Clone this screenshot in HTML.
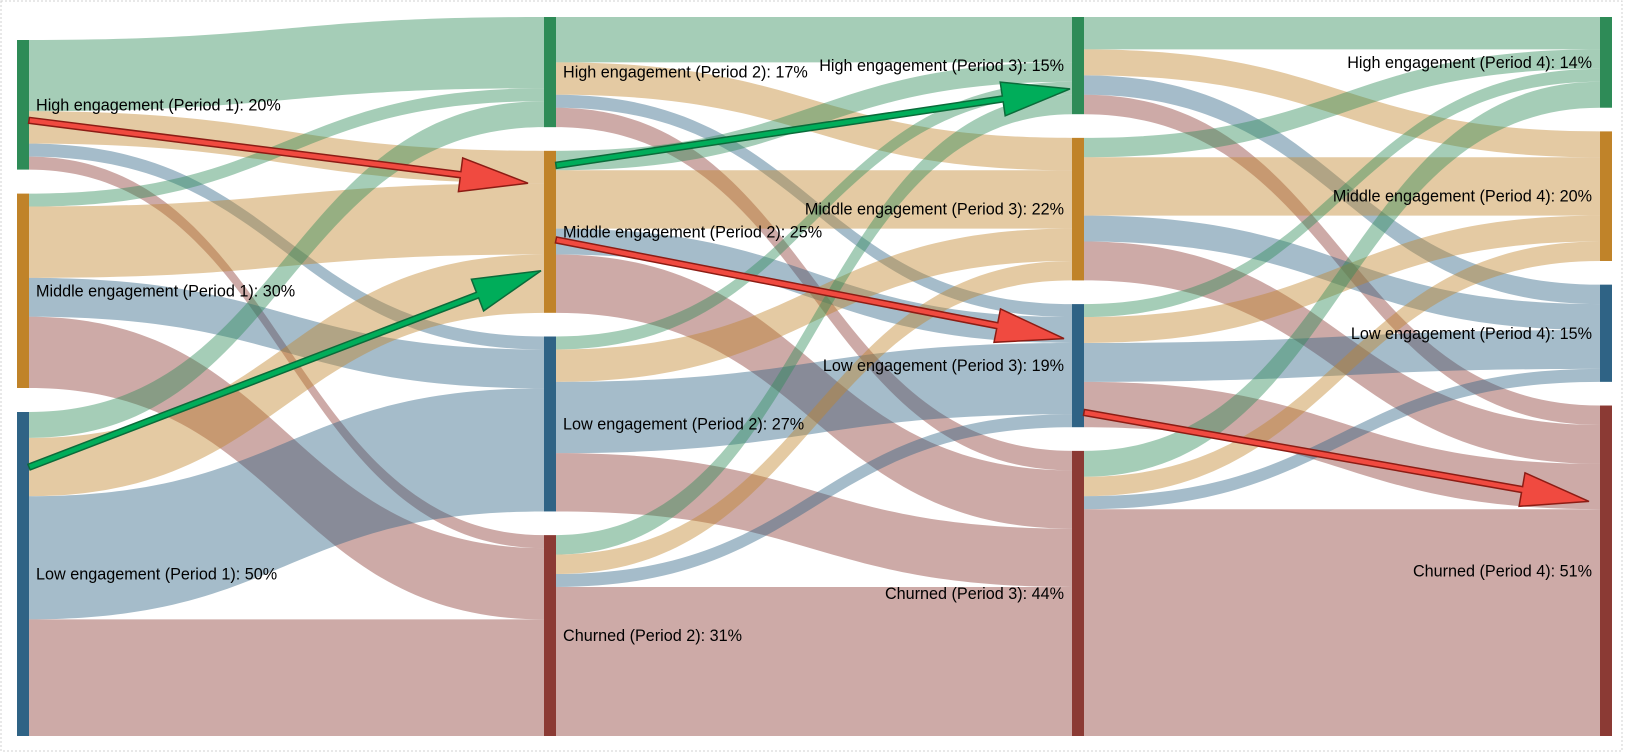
<!DOCTYPE html>
<html><head><meta charset="utf-8">
<style>
html,body{margin:0;padding:0;background:#fff;}
svg{display:block;font-family:"Liberation Sans",Arial,sans-serif;}
</style></head>
<body>
<svg id="chart" width="1629" height="754" viewBox="0 0 1629 754" xmlns="http://www.w3.org/2000/svg">
<rect x="1" y="1" width="1621" height="750" fill="#fff" stroke="#d0d0d0" stroke-dasharray="2,2"/>
<g id="links"></g><g id="nodes"></g><g id="labels"></g><g id="arrows"></g>
</svg>
<script>
const categories = ["High engagement", "Middle engagement", "Low engagement", "Churned"];
const nodeValuesP1 = [20, 30, 50];
const nodeValuesP2 = [17, 25, 27, 31];
const nodeValuesP3 = [15, 22, 19, 44];
const nodeValuesP4 = [14, 20, 15, 51];
// link values: rows = source category, cols = target category
const flowsP1P2 = [[11, 5, 2, 2], [2, 11, 6, 11], [4, 9, 19, 18]];
const flowsP2P3 = [[7, 5, 2, 3], [3, 9, 4, 9], [2, 5, 11, 9], [3, 3, 2, 23]];
const flowsP3P4 = [[5, 4, 3, 3], [3, 9, 4, 6], [2, 4, 6, 7], [4, 3, 2, 35]];
// highlight arrows: [fromPeriod, fromCategory, toPeriod, toCategory, kind]
const arrowsData = [[1, 0, 2, 1, "down"], [2, 1, 3, 2, "down"], [3, 2, 4, 3, "down"], [1, 2, 2, 1, "up"], [2, 1, 3, 0, "up"]];

const NS = "http://www.w3.org/2000/svg";
const nodeCol = ["#2e8b57", "#c08329", "#2f6385", "#8b3a34"];
const linkCol = ["rgba(46,139,87,0.43)", "rgba(192,131,41,0.43)", "rgba(47,99,133,0.43)", "rgba(139,58,52,0.43)"];
const colX = [17, 544, 1072, 1600], NW = 12;
const top0 = 17, bot = 736, ky = 6.48;
const columns = [nodeValuesP1, nodeValuesP2, nodeValuesP3, nodeValuesP4];
const flows = [flowsP1P2, flowsP2P3, flowsP3P4];

function el(tag, attrs, parent) { const e = document.createElementNS(NS, tag); for (const k in attrs) e.setAttribute(k, attrs[k]); parent.appendChild(e); return e; }

const layout = columns.map((vals, c) => {
  const tot = vals.reduce((a, b) => a + b, 0);
  let gap, y;
  if (c === 0) { gap = 24; y = bot - tot * ky - gap * (vals.length - 1); }
  else { gap = (bot - top0 - tot * ky) / (vals.length - 1); y = top0; }
  return vals.map(v => { const n = { y0: y, y1: y + v * ky }; y = n.y1 + gap; return n; });
});
const outOff = layout.map(col => col.map(n => n.y0));
const inOff = layout.map(col => col.map(n => n.y0));

const gL = document.getElementById("links");
flows.forEach((m, c) => {
  const x0 = colX[c] + NW, x1 = colX[c + 1], xm = (x0 + x1) / 2;
  m.forEach((row, s) => row.forEach((v, t) => {
    if (!v) return;
    const h = v * ky;
    const sy = outOff[c][s]; outOff[c][s] += h;
    const ty = inOff[c + 1][t]; inOff[c + 1][t] += h;
    const d = `M${x0},${sy}C${xm},${sy} ${xm},${ty} ${x1},${ty}L${x1},${ty + h}C${xm},${ty + h} ${xm},${sy + h} ${x0},${sy + h}Z`;
    const p = el("path", { d: d, fill: linkCol[t] }, gL);
    
    
  }));
});

const gN = document.getElementById("nodes"), gT = document.getElementById("labels");
layout.forEach((col, c) => col.forEach((n, i) => {
  const r = el("rect", { x: colX[c], y: n.y0, width: NW, height: n.y1 - n.y0, fill: nodeCol[i] }, gN);
  
  
  const left = c >= 2;
  const t = el("text", { x: left ? colX[c] - 8 : colX[c] + NW + 7, y: (n.y0 + n.y1) / 2 + 5.5, "font-size": "16.2", fill: "#000", "text-anchor": left ? "end" : "start" }, gT);
  t.textContent = categories[i] + " (Period " + (c + 1) + "): " + columns[c][i] + "%";
  
  
}));

// arrows (styling/anchor fractions per arrow)
const tipGap = [16, 8, 11, 3, 2];
const startFrac = [0.62, 0.55, 0.88, 0.17, 0.09];
const endFrac = [0.2, 0.28, 0.29, 0.74, 0.74];
const gA = document.getElementById("arrows");
arrowsData.forEach((a, k) => {
  const [p0, c0, p1, c1, kind] = a;
  const n0 = layout[p0 - 1][c0], n1 = layout[p1 - 1][c1];
  const x0 = colX[p0 - 1] + NW, x1 = colX[p1 - 1] - tipGap[k];
  const y0 = n0.y0 + (n0.y1 - n0.y0) * startFrac[k];
  const y1 = n1.y0 + (n1.y1 - n1.y0) * endFrac[k];
  const dx = x1 - x0, dy = y1 - y0, L = Math.hypot(dx, dy), ux = dx / L, uy = dy / L, nx = -uy, ny = ux;
  const hl = 68, hw = 17, sw = 3;
  const bx = x1 - ux * hl, by = y1 - uy * hl;
  const pts = [[x0 + nx * sw, y0 + ny * sw], [bx + nx * sw, by + ny * sw], [bx + nx * hw, by + ny * hw], [x1, y1], [bx - nx * hw, by - ny * hw], [bx - nx * sw, by - ny * sw], [x0 - nx * sw, y0 - ny * sw]];
  const red = kind === "down";
  const p = el("polygon", { points: pts.map(q => q[0].toFixed(1) + "," + q[1].toFixed(1)).join(" "), fill: red ? "#f04a40" : "#00ad5a", stroke: red ? "#8c1c14" : "#0b6b3a", "stroke-width": "1.5", "stroke-linejoin": "miter" }, gA);
  
  
});
</script>
</body></html>
